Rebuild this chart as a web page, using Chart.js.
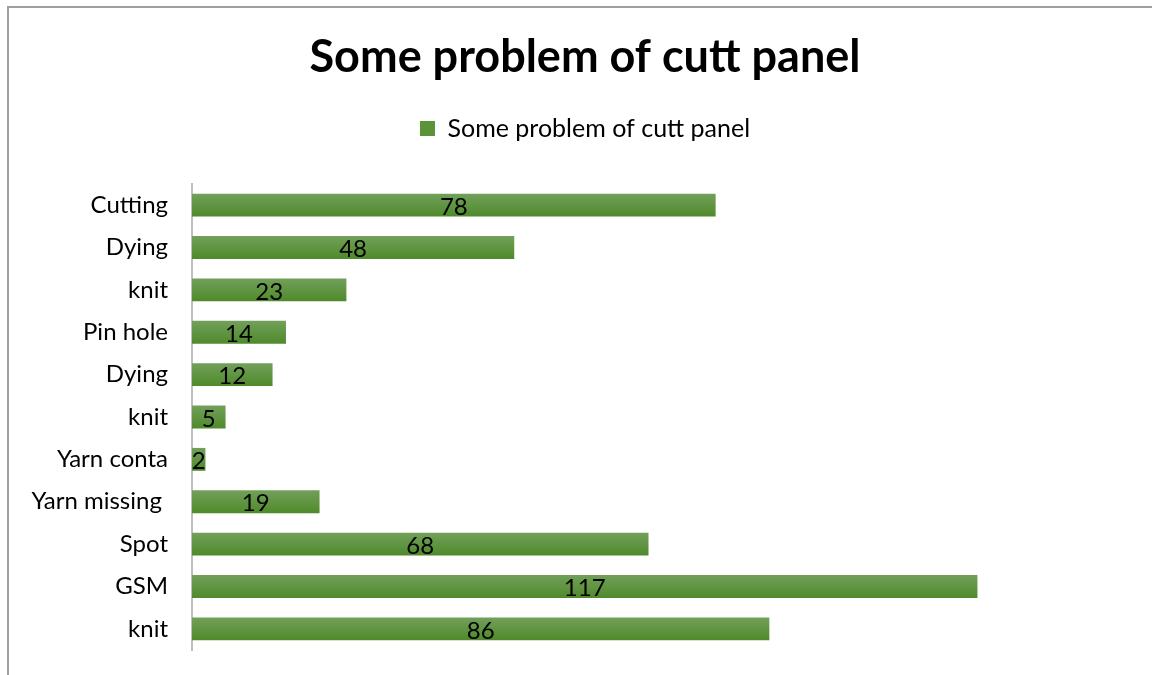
<!DOCTYPE html>
<html>
<head>
<meta charset="utf-8">
<script src="https://cdn.jsdelivr.net/npm/chart.js@4.4.1/dist/chart.umd.min.js"></script>
<style>
  html, body { margin: 0; padding: 0; background: #fff; }
  #wrap { width: 1152px; height: 675px; position: relative; }
</style>
</head>
<body>
<div id="wrap"><canvas id="c" width="1152" height="675"></canvas></div>
<script>
// Defect categories (top to bottom) and their counts
const categories = ['Cutting', 'Dying', 'knit', 'Pin hole', 'Dying', 'knit', 'Yarn conta', 'Yarn missing ', 'Spot', 'GSM', 'knit'];
const counts = [78, 48, 23, 14, 12, 5, 2, 19, 68, 117, 86];
const seriesName = 'Some problem of cutt panel';
const chartTitle = 'Some problem of cutt panel';

const FONT = 'Lato, "Open Sans", sans-serif';
const BAR_FRACTION = 0.54;

// Vertical green gradient for each bar
function barFill(ctx) {
  const chart = ctx.chart;
  const y = chart.scales.y;
  if (!y || ctx.dataIndex === undefined) return '#5b9338';
  const center = y.getPixelForValue(ctx.dataIndex);
  const h = (y.height / categories.length) * BAR_FRACTION;
  const g = chart.ctx.createLinearGradient(0, center - h / 2, 0, center + h / 2);
  g.addColorStop(0, '#72a05a');
  g.addColorStop(1, '#4f8a2b');
  return g;
}

// Thin frame along the top and left of the chart
const framePlugin = {
  id: 'frame',
  beforeDraw(chart) {
    const c = chart.ctx;
    c.save();
    c.strokeStyle = '#a0a0a0';
    c.lineWidth = 2;
    c.beginPath();
    c.moveTo(8, 675);
    c.lineTo(8, 7);
    c.lineTo(1152, 7);
    c.stroke();
    c.restore();
  }
};

// Value labels drawn at the middle of each bar
const valueLabels = {
  id: 'valueLabels',
  afterDatasetsDraw(chart) {
    const c = chart.ctx;
    const meta = chart.getDatasetMeta(0);
    c.save();
    c.font = '24px ' + FONT;
    c.fillStyle = '#000';
    c.textAlign = 'center';
    c.textBaseline = 'middle';
    meta.data.forEach((bar, i) => {
      const cx = (bar.x + bar.base) / 2;
      c.fillText(String(counts[i]), cx, bar.y + 2);
    });
    c.restore();
  }
};

new Chart(document.getElementById('c'), {
  type: 'bar',
  data: {
    labels: categories,
    datasets: [{
      label: seriesName,
      data: counts,
      backgroundColor: barFill,
      borderWidth: 0,
      categoryPercentage: 1,
      barPercentage: BAR_FRACTION
    }]
  },
  options: {
    indexAxis: 'y',
    responsive: false,
    animation: false,
    layout: { padding: { left: 18, right: 0, top: 12, bottom: 25 } },
    plugins: {
      title: {
        display: true,
        text: chartTitle,
        color: '#000',
        font: { family: FONT, size: 45, weight: 'bold', lineHeight: 1.2 },
        padding: { top: 18, bottom: 22 }
      },
      legend: {
        display: true,
        position: 'top',
        labels: {
          color: '#000',
          font: { family: FONT, size: 25 },
          boxWidth: 15,
          boxHeight: 15,
          padding: 10,
          generateLabels() {
            return [{ text: seriesName, fillStyle: '#5b9338', strokeStyle: '#5b9338', lineWidth: 0, hidden: false, datasetIndex: 0 }];
          }
        }
      },
      tooltip: { enabled: false }
    },
    scales: {
      x: {
        position: 'top',
        min: 0,
        max: 143,
        grid: { display: false, drawTicks: false },
        border: { display: false },
        ticks: { display: false },
        afterFit(scale) { scale.height = 33; }
      },
      y: {
        grid: { display: false, drawTicks: false },
        border: { display: true, color: '#bfbfbf', width: 2 },
        ticks: {
          color: '#000',
          font: { family: FONT, size: 24 },
          padding: 24,
          autoSkip: false
        },
        afterFit(scale) {
          scale.width = 174;
          scale.paddingTop = 0;
          scale.paddingBottom = 0;
        }
      }
    }
  },
  plugins: [framePlugin, valueLabels]
});
</script>
</body>
</html>
